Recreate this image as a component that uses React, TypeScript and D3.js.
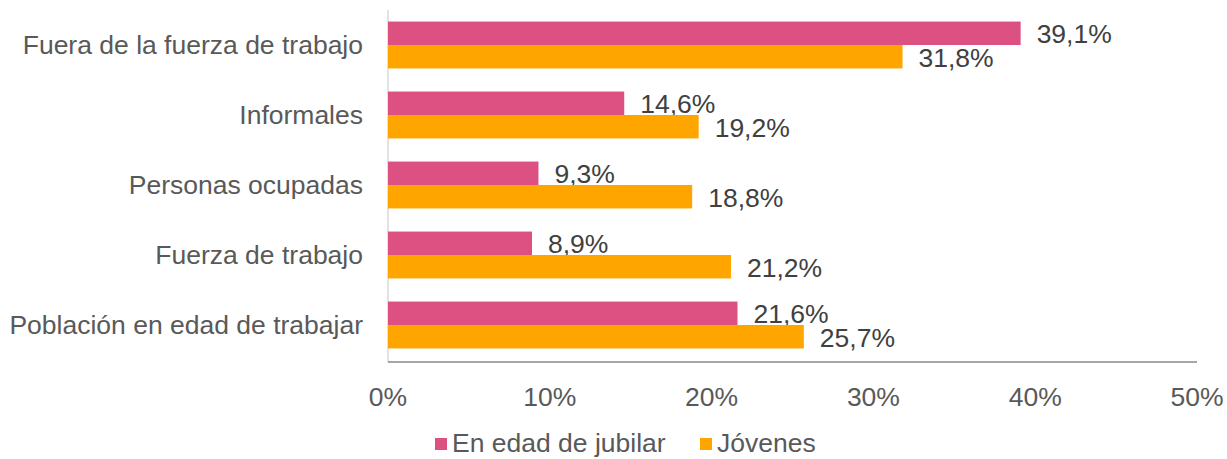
import React from "react";
import * as d3 from "d3";

const categories = [
  "Fuera de la fuerza de trabajo",
  "Informales",
  "Personas ocupadas",
  "Fuerza de trabajo",
  "Población en edad de trabajar",
];
const seriesNames = ["En edad de jubilar", "Jóvenes"];
const jubilar = [39.1, 14.6, 9.3, 8.9, 21.6];
const jovenes = [31.8, 19.2, 18.8, 21.2, 25.7];
const xTicks = [0, 10, 20, 30, 40, 50];
const colors = ["#DC5082", "#FFA500"];

const W = 1227;
const H = 459;
const FONT = "'Liberation Sans', Arial, sans-serif";
const FS = 26.5;

export default function App() {
  const x = d3.scaleLinear().domain([0, 50]).range([388, 1197]);
  const y = d3.scaleBand<string>().domain(categories).range([10, 360]).paddingInner(0.33).paddingOuter(0.165);
  const inner = d3.scaleBand<string>().domain(seriesNames).range([0, y.bandwidth()]);
  const series = [jubilar, jovenes];
  const fmt = (v: number) => v.toFixed(1).replace(".", ",") + "%";

  return (
    <svg width={W} height={H} style={{ position: "absolute", left: 0, top: 0, background: "#fff" }} fontFamily={FONT}>
      <line x1={x(0)} x2={x(0)} y1={10} y2={362} stroke="#d9d9d9" strokeWidth={1.5} />
      {categories.map((c, i) => (
        <g key={c}>
          {series.map((s, j) => {
            const yy = (y(c) as number) + (inner(seriesNames[j]) as number);
            const bh = inner.bandwidth();
            return (
              <g key={j}>
                <rect x={x(0)} y={yy} width={x(s[i]) - x(0)} height={bh} fill={colors[j]} />
                <text x={x(s[i]) + 16} y={yy + bh / 2 + 1} dominantBaseline="central" fontSize={FS} fill="#404040">
                  {fmt(s[i])}
                </text>
              </g>
            );
          })}
          <text x={363} y={(y(c) as number) + y.bandwidth() / 2} textAnchor="end" dominantBaseline="central" fontSize={FS} fill="#595959">
            {c}
          </text>
        </g>
      ))}
      <line x1={x(0)} x2={x(50)} y1={362} y2={362} stroke="#898989" strokeWidth={1.5} />
      {xTicks.map((t) => (
        <text key={t} x={x(t)} y={397} textAnchor="middle" dominantBaseline="central" fontSize={FS} fill="#595959">
          {t + "%"}
        </text>
      ))}
      <g>
        <rect x={435} y={438} width={12} height={12} fill={colors[0]} />
        <text x={452} y={443} dominantBaseline="central" fontSize={FS} fill="#595959">{seriesNames[0]}</text>
        <rect x={700} y={438} width={12} height={12} fill={colors[1]} />
        <text x={717} y={443} dominantBaseline="central" fontSize={FS} fill="#595959">{seriesNames[1]}</text>
      </g>
    </svg>
  );
}
